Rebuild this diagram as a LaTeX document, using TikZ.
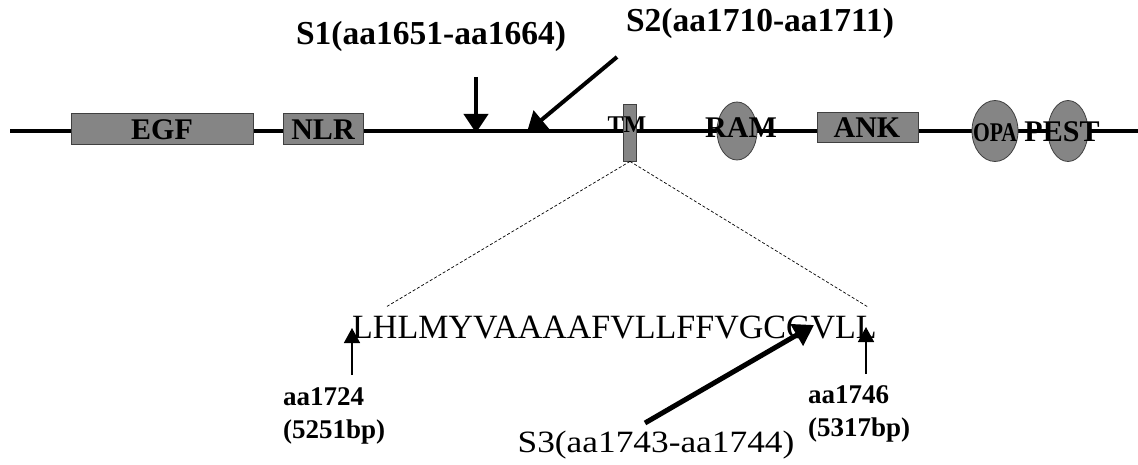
\documentclass[tikz,border=0pt]{standalone}
\usepackage{fontspec}
\setmainfont{Liberation Serif}
\usetikzlibrary{arrows.meta,shapes.geometric}
\definecolor{boxgray}{gray}{0.52}
\tikzset{
  domainbox/.style={draw=black!75, line width=0.8pt, fill=boxgray, rectangle, inner sep=0pt},
  domainoval/.style={draw=black!75, line width=0.8pt, fill=boxgray, ellipse, inner sep=0pt},
  dlabel/.style={font=\fontsize{30}{32}\selectfont\bfseries, inner sep=0pt},
  bigarrow/.style={line width=4pt, -{Triangle[length=19pt,width=24pt]}},
  s3arrow/.style={line width=5pt, -{Triangle[length=20pt,width=24pt]}},
  smallarrow/.style={line width=1.5pt, -{Triangle[length=15pt,width=16pt]}},
  toplabel/.style={font=\fontsize{33.5}{36}\selectfont\bfseries, inner sep=0pt},
  poslabel/.style={font=\fontsize{27}{29}\selectfont\bfseries, align=left, inner sep=0pt},
  zoomline/.style={line width=0.7pt, dash pattern=on 3pt off 2pt}
}
\begin{document}
\begin{tikzpicture}[x=1pt,y=-1pt]
\useasboundingbox (0,0) rectangle (1138,465);
% backbone
\coordinate (lineL) at (10,131);
\coordinate (lineR) at (1138,131);
\draw[line width=4pt] (lineL) -- (lineR);
% domains
\node[domainbox, minimum width=182pt, minimum height=31pt] (egf) at (162,128.5) {};
\node[domainbox, minimum width=80pt, minimum height=31pt] (nlr) at (323,128.5) {};
\node[domainbox, minimum width=13pt, minimum height=57pt] (tm) at (630,132.5) {};
\node[domainoval, minimum width=40pt, minimum height=58pt] (ram) at (737,131) {};
\node[domainbox, minimum width=101pt, minimum height=30pt] (ank) at (867.5,127) {};
\node[domainoval, minimum width=46pt, minimum height=61pt] (opa) at (995,131) {};
\node[domainoval, minimum width=40pt, minimum height=61pt] (pest) at (1068,131) {};
% domain labels
\node[dlabel] (egft) at (162,130) {EGF};
\node[dlabel] (nlrt) at (323,130) {NLR};
\node[dlabel, font=\fontsize{24}{26}\selectfont\bfseries] (tmt) at (627,125) {TM};
\node[dlabel] (ramt) at (741,128) {RAM};
\node[dlabel] (ankt) at (867,128) {ANK};
\node[dlabel, font=\fontsize{27}{29}\selectfont\bfseries] (opat) at (995,133) {\scalebox{0.8}[1]{OPA}};
\node[dlabel, font=\fontsize{30}{32}\selectfont\bfseries] (pestt) at (1062,132) {PEST};
% top cleavage sites
\node[toplabel] (s1) at (431,36) {S1(aa1651-aa1664)};
\node[toplabel] (s2) at (760,23) {S2(aa1710-aa1711)};
\coordinate (s1a) at (476,77);
\coordinate (s1b) at (476,133);
\coordinate (s2a) at (617,57);
\coordinate (s2b) at (527,132);
\draw[bigarrow] (s1a) -- (s1b);
\draw[bigarrow] (s2a) -- (s2b);
% zoom lines
\coordinate (zl) at (386,307);
\coordinate (zr) at (868,307);
\draw[zoomline] (tm.south) -- (zl);
\draw[zoomline] (tm.south) -- (zr);
% sequence
\node[anchor=base west, inner sep=0pt, font=\fontsize{34}{36}\selectfont] (seq) at (352,338) {LHLMYVAAAAFVLLFFVGCGVLL};
% position arrows
\coordinate (p1a) at (352,375);
\coordinate (p1b) at (352,328);
\coordinate (p2a) at (866,374);
\coordinate (p2b) at (866,327);
\draw[smallarrow] (p1a) -- (p1b);
\draw[smallarrow] (p2a) -- (p2b);
\node[poslabel, anchor=north west] (pos1) at (283,387) {aa1724\\[4pt](5251bp)};
\node[poslabel, anchor=north west] (pos2) at (808,385) {aa1746\\[4pt](5317bp)};
% S3
\coordinate (s3a) at (645,423);
\coordinate (s3b) at (814,325);
\draw[s3arrow] (s3a) -- (s3b);
\node[inner sep=0pt, font=\fontsize{31}{34}\selectfont] (s3) at (656,445) {\scalebox{1.14}[1]{S3(aa1743-aa1744)}};
\end{tikzpicture}
\end{document}
